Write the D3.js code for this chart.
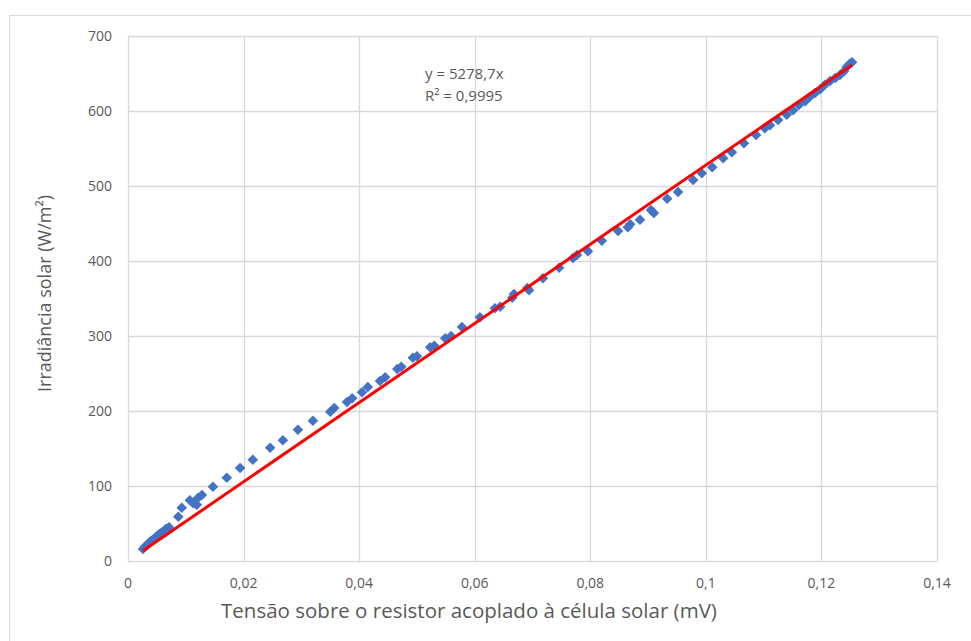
<!DOCTYPE html>
<html>
<head>
<meta charset="utf-8">
<script src="https://cdn.jsdelivr.net/npm/d3@7"></script>
<style>
  body { margin: 0; background: #fff; }
  svg { display: block; font-family: "Open Sans", "Liberation Sans", Arial, sans-serif; }
</style>
</head>
<body>
<div id="chart"></div>
<script>
// Tensão (mV) vs irradiância (W/m²)
const tensao = [
  0.0026, 0.0029, 0.0033, 0.0036, 0.0040, 0.0043, 0.0047, 0.0050, 0.0054, 0.0057,
  0.0062, 0.0066, 0.0071, 0.0087, 0.0093, 0.0107, 0.0113, 0.0119, 0.0121, 0.0128,
  0.0147, 0.0171, 0.0194, 0.0216, 0.0246, 0.0268, 0.0294, 0.0320, 0.0350, 0.0357,
  0.0379, 0.0388, 0.0405, 0.0415, 0.0436, 0.0445, 0.0466, 0.0473, 0.0493, 0.0500,
  0.0523, 0.0530, 0.0549, 0.0559, 0.0578, 0.0609, 0.0635, 0.0644, 0.0665, 0.0668,
  0.0691, 0.0694, 0.0718, 0.0746, 0.0770, 0.0777, 0.0796, 0.0820, 0.0848, 0.0865,
  0.0869, 0.0886, 0.0905, 0.0910, 0.0933, 0.0952, 0.0978, 0.0993, 0.1011, 0.1030,
  0.1045, 0.1066, 0.1087, 0.1102, 0.1111, 0.1125, 0.1140, 0.1151, 0.1161, 0.1172,
  0.1180, 0.1189, 0.1198, 0.1206, 0.1215, 0.1224, 0.1232, 0.1239, 0.1244, 0.1249,
  0.1253
];
const irradiancia = [
  16, 19, 21, 24, 27, 28, 31, 33, 36, 37,
  40, 43, 45, 59, 71, 81, 77, 75, 84, 88,
  99, 111, 124, 135, 151, 161, 175, 187, 199, 204,
  212, 217, 225, 232, 240, 245, 256, 259, 271, 273,
  285, 287, 297, 300, 312, 325, 337, 339, 351, 356,
  364, 361, 377, 391, 404, 408, 413, 427, 440, 445,
  449, 455, 468, 464, 483, 492, 508, 517, 525, 537,
  545, 557, 568, 577, 581, 588, 595, 601, 608, 613,
  619, 624, 629, 635, 640, 644, 648, 653, 659, 663,
  665
];
const xTicks = [0, 0.02, 0.04, 0.06, 0.08, 0.1, 0.12, 0.14];
const xTickLabels = ["0", "0,02", "0,04", "0,06", "0,08", "0,1", "0,12", "0,14"];
const yTicks = [0, 100, 200, 300, 400, 500, 600, 700];
const slope = 5278.7;
const equationLines = ["y = 5278,7x", "R² = 0,9995"];

const width = 971;
const height = 641;
const margin = { left: 128, top: 36, right: 937, bottom: 561 };

const svg = d3.select("#chart").append("svg")
  .attr("width", width)
  .attr("height", height);

// outer chart border (runs off the window on the right and bottom)
svg.append("rect")
  .attr("x", 9.5).attr("y", 15.5)
  .attr("width", 1000).attr("height", 700)
  .attr("fill", "#fff")
  .attr("stroke", "#d9d9d9");

const x = d3.scaleLinear().domain([0, 0.14]).range([margin.left, margin.right]);
const y = d3.scaleLinear().domain([0, 700]).range([margin.bottom, margin.top]);

// grid
svg.append("g")
  .selectAll("line")
  .data(xTicks)
  .join("line")
  .attr("x1", d => Math.round(x(d)) + 0.5)
  .attr("x2", d => Math.round(x(d)) + 0.5)
  .attr("y1", margin.top)
  .attr("y2", margin.bottom)
  .attr("stroke", "#d9d9d9")
  .attr("stroke-width", 1.3);

svg.append("g")
  .selectAll("line")
  .data(yTicks)
  .join("line")
  .attr("x1", margin.left)
  .attr("x2", margin.right)
  .attr("y1", d => Math.round(y(d)) + 0.5)
  .attr("y2", d => Math.round(y(d)) + 0.5)
  .attr("stroke", "#d9d9d9")
  .attr("stroke-width", 1.3);

// tick labels
svg.append("g")
  .selectAll("text")
  .data(xTicks)
  .join("text")
  .attr("x", d => x(d))
  .attr("y", margin.bottom + 27)
  .attr("text-anchor", "middle")
  .attr("font-size", 14)
  .attr("fill", "#595959")
  .text((d, i) => xTickLabels[i]);

svg.append("g")
  .selectAll("text")
  .data(yTicks)
  .join("text")
  .attr("x", margin.left - 16)
  .attr("y", d => y(d) + 5)
  .attr("text-anchor", "end")
  .attr("font-size", 14)
  .attr("fill", "#595959")
  .text(d => d);

// data points (Excel style diamonds)
const diamond = d3.symbol().type(d3.symbolSquare).size(56);
svg.append("g")
  .selectAll("path")
  .data(tensao.map((t, i) => [t, irradiancia[i]]))
  .join("path")
  .attr("d", diamond)
  .attr("transform", d => `translate(${x(d[0])},${y(d[1])}) rotate(45)`)
  .attr("fill", "#4472c4");

// linear trendline through origin
const xExtent = d3.extent(tensao);
svg.append("line")
  .attr("x1", x(xExtent[0]))
  .attr("y1", y(slope * xExtent[0]))
  .attr("x2", x(xExtent[1]))
  .attr("y2", y(slope * xExtent[1]))
  .attr("stroke", "#ff0000")
  .attr("stroke-width", 3);

// equation
svg.append("g")
  .selectAll("text")
  .data(equationLines)
  .join("text")
  .attr("x", 425)
  .attr("y", (d, i) => 79 + i * 22)
  .attr("font-size", 15)
  .attr("fill", "#595959")
  .text(d => d);

// axis titles
svg.append("text")
  .attr("x", 469)
  .attr("y", 618)
  .attr("text-anchor", "middle")
  .attr("font-size", 20.5)
  .attr("fill", "#595959")
  .text("Tensão sobre o resistor acoplado à célula solar (mV)");

svg.append("text")
  .attr("transform", `translate(51, ${(margin.top + margin.bottom) / 2 - 5}) rotate(-90)`)
  .attr("text-anchor", "middle")
  .attr("font-size", 18)
  .attr("fill", "#595959")
  .text("Irradiância solar (W/m²)");
</script>
</body>
</html>
